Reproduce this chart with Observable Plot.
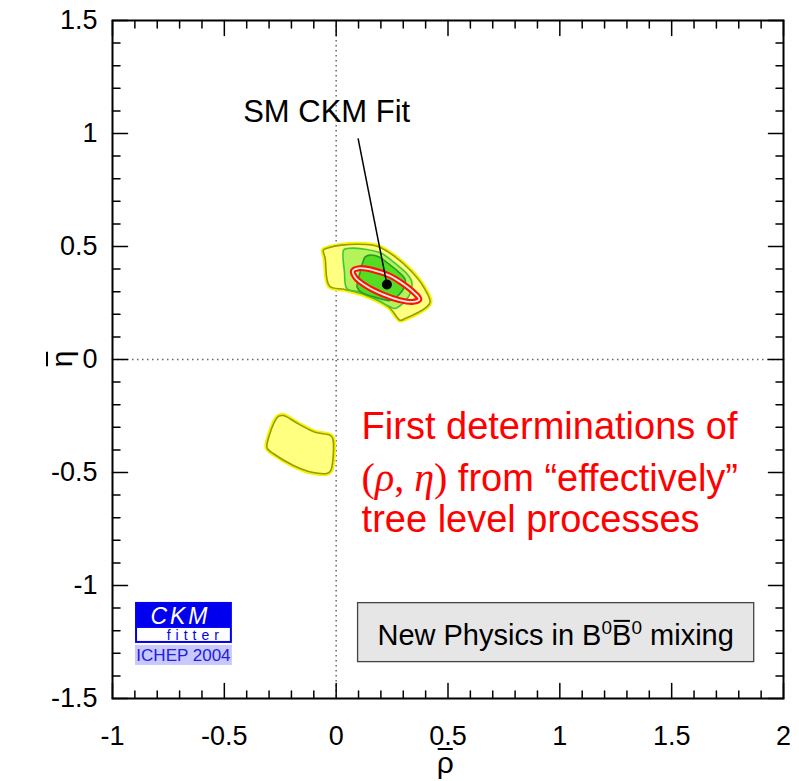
<!DOCTYPE html>
<html>
<head>
<meta charset="utf-8">
<script src="https://cdn.jsdelivr.net/npm/d3@7"></script>
<script src="https://cdn.jsdelivr.net/npm/@observablehq/plot@0.6"></script>
<style>
  html, body { margin: 0; padding: 0; background: #fff; }
  svg { display: block; }
</style>
</head>
<body>
<div id="chart"></div>
<script>
// ---- Data ----
const xTicks = [-1, -0.5, 0, 0.5, 1, 1.5, 2];
const yTicks = [-1.5, -1, -0.5, 0, 0.5, 1, 1.5];

// Upper yellow region
const yellowUpperRho = [-0.057, -0.034, 0.025, 0.130, 0.189, 0.264, 0.338, 0.390, 0.420, 0.405, 0.308, 0.286, 0.236, 0.130, 0.040, -0.030, -0.049];
const yellowUpperEta = [0.484, 0.494, 0.506, 0.509, 0.499, 0.454, 0.388, 0.322, 0.255, 0.233, 0.181, 0.174, 0.232, 0.285, 0.310, 0.325, 0.447];

// Lower yellow region
const yellowLowerRho = [-0.310, -0.280, -0.258, -0.236, -0.169, -0.094, -0.027, -0.015, -0.024, -0.039, -0.109, -0.191, -0.280, -0.307];
const yellowLowerEta = [-0.381, -0.285, -0.252, -0.248, -0.285, -0.322, -0.336, -0.351, -0.491, -0.503, -0.499, -0.469, -0.417, -0.395];

// Light green region
const greenLightRho = [0.033, 0.048, 0.130, 0.204, 0.264, 0.308, 0.338, 0.323, 0.264, 0.241, 0.174, 0.100, 0.048, 0.037];
const greenLightEta = [0.484, 0.491, 0.488, 0.469, 0.425, 0.388, 0.344, 0.277, 0.226, 0.233, 0.270, 0.300, 0.314, 0.388];

// Dark green region
const greenDarkRho = [0.130, 0.152, 0.192, 0.232, 0.277, 0.308, 0.304, 0.277, 0.241, 0.179, 0.116, 0.094, 0.107];
const greenDarkEta = [0.454, 0.462, 0.454, 0.425, 0.389, 0.354, 0.319, 0.283, 0.261, 0.274, 0.296, 0.319, 0.385];

// SM CKM fit contour (red)
const smFitRho = [0.372, 0.343, 0.283, 0.206, 0.134, 0.086, 0.075, 0.104, 0.164, 0.241, 0.300, 0.348];
const smFitEta = [0.267, 0.255, 0.263, 0.289, 0.325, 0.363, 0.392, 0.404, 0.396, 0.370, 0.334, 0.296];

// SM CKM fit central value
const smPointRho = [0.227];
const smPointEta = [0.332];

// ---- Build tables ----
const rows = (r, e) => r.map((v, i) => ({rho: v, eta: e[i]}));
const yU = rows(yellowUpperRho, yellowUpperEta);
const yL = rows(yellowLowerRho, yellowLowerEta);
const gL = rows(greenLightRho, greenLightEta);
const gD = rows(greenDarkRho, greenDarkEta);
const sm = rows(smFitRho, smFitEta);
const smPt = rows(smPointRho, smPointEta);

const xMinor = d3.ticks(-1, 2, 30);
const yMinor = d3.ticks(-1.5, 1.5, 30);

const lineShape = { draw(ctx, l) { ctx.moveTo(0, 0); ctx.lineTo(0, -l); } };
function frameTicks(vals, len) {
  const o = {length: len, anchor: "start", shape: lineShape, stroke: "black", strokeWidth: 1.5};
  return [
    Plot.vector(vals.x, {...o, x: d => d, frameAnchor: "bottom", rotate: 0}),
    Plot.vector(vals.x, {...o, x: d => d, frameAnchor: "top", rotate: 180}),
    Plot.vector(vals.y, {...o, y: d => d, frameAnchor: "left", rotate: 90}),
    Plot.vector(vals.y, {...o, y: d => d, frameAnchor: "right", rotate: 270})
  ];
}

const FONT = "'Liberation Sans', Arial, Helvetica, sans-serif";
const region = (data, fill, stroke, halo) => [
  halo ? Plot.line(data, {x: "rho", y: "eta", curve: "catmull-rom-closed", stroke: halo, strokeWidth: 5, strokeLinejoin: "round"}) : null,
  Plot.line(data, {x: "rho", y: "eta", curve: "catmull-rom-closed", fill, stroke, strokeWidth: 1.6, strokeLinejoin: "round"})
];

const plot = Plot.plot({
  width: 799,
  height: 781,
  marginLeft: 112,
  marginRight: 16,
  marginTop: 20,
  marginBottom: 83,
  x: {domain: [-1, 2]},
  y: {domain: [-1.5, 1.5]},
  style: {fontFamily: FONT, background: "white", color: "black"},
  marks: [
    Plot.ruleX([0], {stroke: "#666", strokeWidth: 1.5, strokeDasharray: "1.5,3.5"}),
    Plot.ruleY([0], {stroke: "#666", strokeWidth: 1.5, strokeDasharray: "1.5,3.5"}),
    ...region(yL, "#ffff80", "#9a9a00", "#f4f400"),
    ...region(yU, "#ffff80", "#9a9a00", "#f4f400"),
    ...region(gL, "#b6f35a", "#3cc83c", null),
    ...region(gD, "#55dd22", "#2a9a2a", null),
    Plot.line(sm, {x: "rho", y: "eta", curve: "catmull-rom-closed", stroke: "#ff1010", strokeWidth: 6}),
    Plot.line(sm, {x: "rho", y: "eta", curve: "catmull-rom-closed", stroke: "#fff4d8", strokeWidth: 1.8}),
    Plot.link(smPt, {x1: 0.098, y1: 0.978, x2: "rho", y2: "eta", stroke: "black", strokeWidth: 1.5}),
    Plot.dot(smPt, {x: "rho", y: "eta", r: 5, fill: "black"}),
    ...frameTicks({x: xTicks, y: yTicks}, 15),
    ...frameTicks({x: xMinor.filter(v => !xTicks.includes(v)), y: yMinor.filter(v => !yTicks.includes(v))}, 7.5),
    Plot.axisX({ticks: xTicks, tickSize: 0, tickPadding: 27, tickFormat: d => String(d), fontSize: 27, label: null, anchor: "bottom"}),
    Plot.axisY({ticks: yTicks, tickSize: 0, tickPadding: 15, tickFormat: d => String(d), fontSize: 27, label: null, anchor: "left"}),
    Plot.frame({stroke: "black", strokeWidth: 2})
  ]
});

document.getElementById("chart").append(plot);

const sx = plot.scale("x"), sy = plot.scale("y");
const svg = d3.select(plot);
const g = svg.append("g").attr("font-family", FONT).attr("text-anchor", "start");

function overline(parent, textNode, idx, yBar, shrink) {
  const e = textNode.getExtentOfChar(idx);
  parent.append("line")
    .attr("x1", e.x + shrink).attr("x2", e.x + e.width - shrink)
    .attr("y1", yBar).attr("y2", yBar)
    .attr("stroke", "black").attr("stroke-width", 2);
}

// SM CKM Fit label
g.append("text").attr("x", sx.apply(-0.04)).attr("y", sy.apply(1.049))
  .attr("text-anchor", "middle").attr("font-size", 31).text("SM CKM Fit");

// Red annotation
const redX = sx.apply(0.116);
const red = g.append("g").attr("fill", "#ff0000").attr("font-size", 38).attr("text-anchor", "start");
red.append("text").attr("x", redX).attr("y", sy.apply(-0.354)).text("First determinations of");
const l2 = red.append("text").attr("x", redX).attr("y", sy.apply(-0.584));
const SERIF = "'Liberation Serif', 'Times New Roman', serif";
l2.append("tspan").attr("font-family", SERIF).attr("font-size", 40).text("(");
l2.append("tspan").attr("font-family", SERIF).attr("font-style", "italic").attr("font-size", 40).text("ρ");
l2.append("tspan").attr("font-family", SERIF).attr("font-size", 40).text(", ");
l2.append("tspan").attr("font-family", SERIF).attr("font-style", "italic").attr("font-size", 40).text("η");
l2.append("tspan").attr("font-family", SERIF).attr("font-size", 40).text(")");
l2.append("tspan").text(" from \u201Ceffectively\u201D");
red.append("text").attr("x", redX).attr("y", sy.apply(-0.765)).text("tree level processes");

// Axis titles
const rhoY = sy.apply(-1.5) + 75;
const rhoT = g.append("text").attr("x", sx.apply(0.49)).attr("y", rhoY)
  .attr("text-anchor", "middle").attr("font-size", 30).text("ρ");
overline(g, rhoT.node(), 0, rhoY - 24, 1);

const etaG = g.append("g").attr("transform", `translate(${sx.apply(-1) - 40},${sy.apply(0)}) rotate(-90)`);
const etaT = etaG.append("text").attr("x", 0).attr("y", 0).attr("text-anchor", "middle").attr("font-size", 30).text("η");
overline(etaG, etaT.node(), 0, -25, 1);

// Legend box
const bx1 = sx.apply(0.098), bx2 = sx.apply(1.869), by1 = sy.apply(-1.078), by2 = sy.apply(-1.339);
g.append("rect").attr("x", bx1).attr("y", by1).attr("width", bx2 - bx1).attr("height", by2 - by1)
  .attr("fill", "#e6e6e6").attr("stroke", "#444").attr("stroke-width", 1.3);
const legY = sy.apply(-1.265);
const leg = g.append("text").attr("x", (bx1 + bx2) / 2).attr("y", legY).attr("text-anchor", "middle").attr("font-size", 29);
leg.append("tspan").text("New Physics in B");
leg.append("tspan").attr("dy", -11).attr("font-size", 19).text("0");
leg.append("tspan").attr("dy", 11).text("B");
leg.append("tspan").attr("dy", -11).attr("font-size", 19).text("0");
leg.append("tspan").attr("dy", 11).text(" mixing");
overline(g, leg.node(), 17, legY - 24, 1.5);

// CKMfitter logo
const lx1 = sx.apply(-0.897), lx2 = sx.apply(-0.464);
const ly = sy.apply(-1.075);
g.append("rect").attr("x", lx1).attr("y", ly).attr("width", lx2 - lx1).attr("height", 41).attr("fill", "#0000ee");
g.append("rect").attr("x", lx1 + 2).attr("y", ly + 26).attr("width", lx2 - lx1 - 4).attr("height", 13).attr("fill", "white");
g.append("text").attr("x", (lx1 + lx2) / 2 - 3).attr("y", ly + 22).attr("text-anchor", "middle")
  .attr("font-size", 23).attr("font-style", "italic").attr("letter-spacing", 3).attr("fill", "white").text("CKM");
g.append("text").attr("x", lx2 - 8).attr("y", ly + 38).attr("text-anchor", "end")
  .attr("font-size", 14).attr("letter-spacing", 5).attr("fill", "#0000ee").text("fitter");
g.append("rect").attr("x", lx1).attr("y", ly + 43).attr("width", lx2 - lx1).attr("height", 20).attr("fill", "#c8c8ff");
g.append("text").attr("x", (lx1 + lx2) / 2).attr("y", ly + 59).attr("text-anchor", "middle")
  .attr("font-size", 17).attr("fill", "#2020dd").text("ICHEP 2004");
</script>
</body>
</html>
